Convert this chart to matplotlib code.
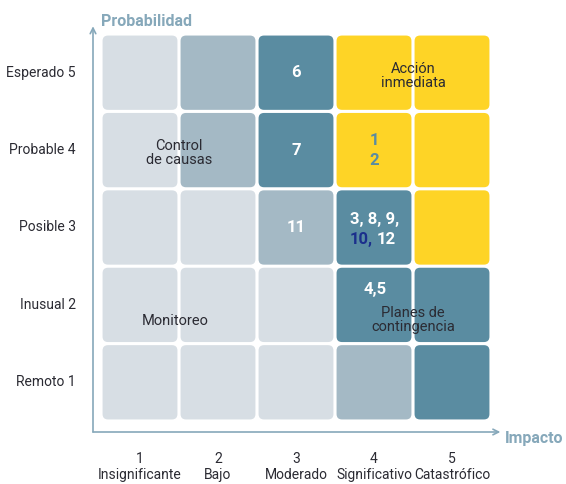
import matplotlib.pyplot as plt
from matplotlib.patches import FancyBboxPatch
import matplotlib as mpl

mpl.rcParams["font.family"] = ["Roboto", "DejaVu Sans"]

LIGHT = "#d7dee4"
MEDIUM = "#a4b9c5"
DARK = "#5a8ca1"
YELLOW = "#fed426"
AXIS_C = "#86a8ba"
TEXT_C = "#2b2b33"

prob_labels = ["Remoto 1", "Inusual 2", "Posible 3", "Probable 4", "Esperado 5"]
impact_labels = ["1\nInsignificante", "2\nBajo", "3\nModerado", "4\nSignificativo", "5\nCatastrófico"]

# color levels per row, row 1 (bottom) to row 5 (top), columns 1..5
levels = [
    ["L", "L", "L", "M", "D"],
    ["L", "L", "L", "D", "D"],
    ["L", "L", "M", "D", "Y"],
    ["L", "M", "D", "Y", "Y"],
    ["L", "M", "D", "Y", "Y"],
]
palette = {"L": LIGHT, "M": MEDIUM, "D": DARK, "Y": YELLOW}

# risk ids: (impact, probability, label)
risks = [(3, 5, "6"), (3, 4, "7"), (3, 3, "11")]

zones = [
    (1.5, 3.96, "Control\nde causas"),
    (4.5, 4.96, "Acción\ninmediata"),
    (1.45, 1.79, "Monitoreo"),
    (4.5, 1.8, "Planes de\ncontingencia"),
]

fig = plt.figure(figsize=(5.66, 4.84), dpi=100)
ax = fig.add_axes([0, 0, 1, 1])
ax.set_xlim(0.5 - 101 / 78, 0.5 + 465 / 78)
ax.set_ylim(0.5 - 63 / 77.4, 0.5 + 421 / 77.4)
ax.axis("off")

half = 0.48
for r, row in enumerate(levels):
    for c, lv in enumerate(row):
        x, y = c + 1, r + 1
        ax.add_patch(FancyBboxPatch((x - half, y - half), 2 * half, 2 * half,
                                    boxstyle="round,pad=0,rounding_size=0.07",
                                    fc=palette[lv], ec="none", zorder=1))

# axes arrows
x0, y0 = 0.5 - 8 / 78, 0.5 - 11 / 77.4
ax.annotate("", xy=(x0, 5.6), xytext=(x0, y0),
            arrowprops=dict(arrowstyle="->", color=AXIS_C, lw=1.2,
                            shrinkA=0, shrinkB=0, mutation_scale=10))
ax.annotate("", xy=(5.62, y0), xytext=(x0, y0),
            arrowprops=dict(arrowstyle="->", color=AXIS_C, lw=1.2,
                            shrinkA=0, shrinkB=0, mutation_scale=10))
ax.text(0.5, 5.66, "Probabilidad", color=AXIS_C, fontsize=11.5,
        fontweight="bold", ha="left", va="center")
ax.text(5.68, y0 - 0.08, "Impacto", color=AXIS_C, fontsize=11.5,
        fontweight="bold", ha="left", va="center")

for i, lab in enumerate(prob_labels):
    ax.text(0.5 - 25 / 78, i + 1, lab, color=TEXT_C, fontsize=10,
            ha="right", va="center")
for i, lab in enumerate(impact_labels):
    ax.text(i + 1, y0 - 0.26, lab, color=TEXT_C, fontsize=10,
            ha="center", va="top", linespacing=1.2)

for x, y, lab in risks:
    ax.text(x, y, lab, color="white", fontsize=12, fontweight="bold",
            ha="center", va="center", zorder=3)

ax.text(4, 4.13, "1", color=DARK, fontsize=12, fontweight="bold",
        ha="center", va="center", zorder=3)
ax.text(4, 3.86, "2", color=DARK, fontsize=12, fontweight="bold",
        ha="center", va="center", zorder=3)

ax.text(4.01, 3.1, "3, 8, 9,", color="white", fontsize=12, fontweight="bold",
        ha="center", va="center", zorder=3)
ax.text(3.99, 2.84, "10,", color="#1b2f8c", fontsize=12, fontweight="bold",
        ha="right", va="center", zorder=3)
ax.text(4.03, 2.84, "12", color="white", fontsize=12, fontweight="bold",
        ha="left", va="center", zorder=3)
ax.text(4.02, 2.2, "4,5", color="white", fontsize=12, fontweight="bold",
        ha="center", va="center", zorder=3)

for x, y, lab in zones:
    ax.text(x, y, lab, color=TEXT_C, fontsize=10.5, ha="center",
            va="center", linespacing=1.0, zorder=3)

fig.savefig("out.png", dpi=100)
